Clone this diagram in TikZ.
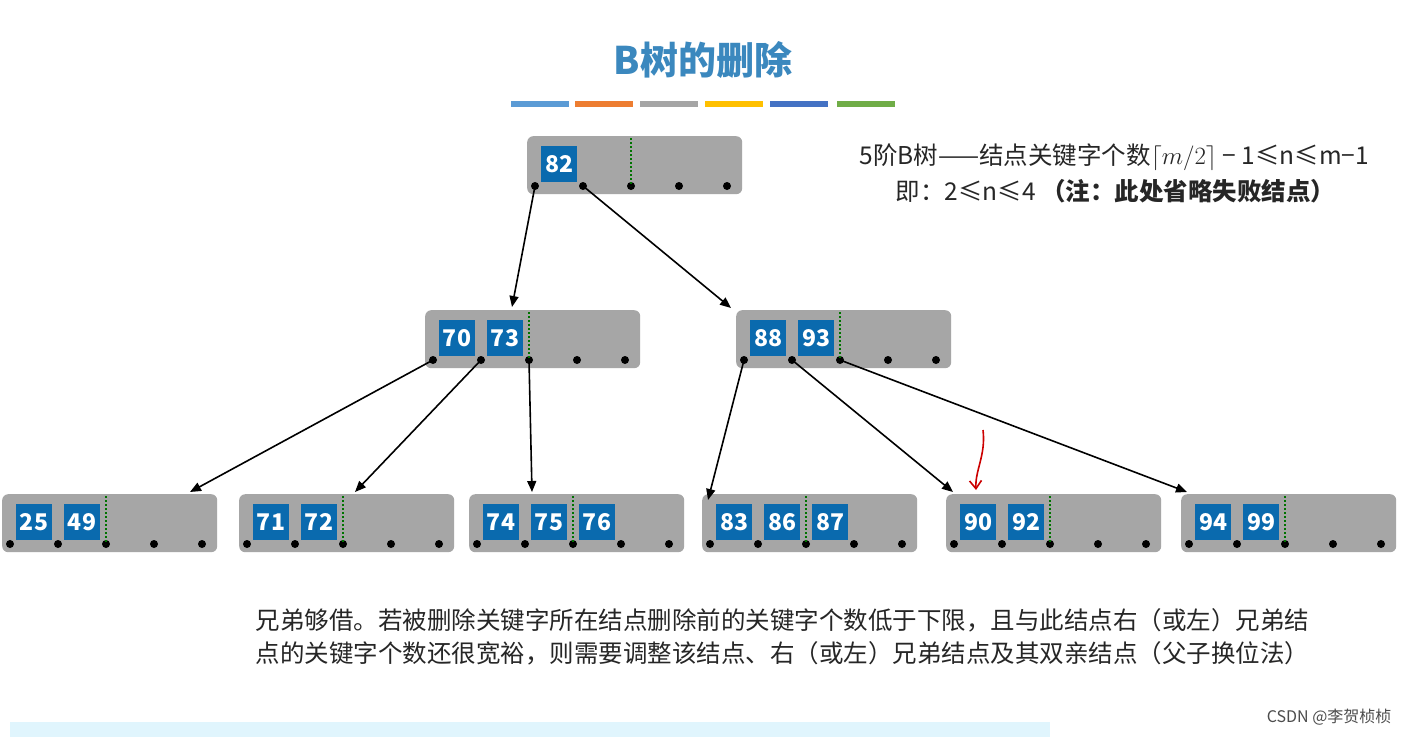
\documentclass[tikz,border=0pt]{standalone}
\usepackage{fontspec}
\setmainfont{Noto Sans CJK SC}
\newfontfamily\cjk{Noto Sans CJK SC}
\usetikzlibrary{arrows.meta}
\definecolor{kb}{HTML}{0A6AAE}
\definecolor{ng}{HTML}{A6A6A6}
\tikzset{
 bnode/.style={fill=ng,rounded corners=6pt,minimum width=215pt,minimum height=58pt,inner sep=0pt,draw=none},
 key/.style={fill=kb,text=white,minimum width=36pt,minimum height=36pt,inner sep=0pt,font=\fontsize{23}{23}\selectfont\bfseries},
 pdot/.style={circle,fill=black,inner sep=0pt,minimum size=8pt},
 arr/.style={-{Triangle[length=11pt,width=9pt]},line width=1.6pt},
 sep/.style={dotted,line width=2pt,draw=green!45!black},
 txt/.style={font=\fontsize{24.5}{28}\selectfont,text=black!85}
}
% #1 name, #2 left x, #3 top y, #4 keys list, #5 dotted index
\newcommand{\btnode}[5]{%
 \node[bnode,anchor=north west] (#1) at (#2,#3) {};
 \foreach \k in {0,...,4}{\node[pdot] (#1-d\k) at ({#2+8+48*\k},{#3+50}) {};}
 \draw[sep] ({#2+8+48*#5},{#3+2}) -- ({#2+8+48*#5},{#3+50});
 \foreach \v [count=\i from 0] in {#4}{\node[key] (#1-k\i) at ({#2+32+48*\i},{#3+28}) {\v};}
}
\begin{document}
\begin{tikzpicture}[x=1pt,y=-1pt]
\useasboundingbox (0,0) rectangle (1408,737);
\fill[white] (0,0) rectangle (1408,737);
\node[font=\fontsize{38}{38}\selectfont\bfseries,text=kb!80!white] (title) at (703,60) {B树的删除};
\foreach \c/\x in {5B9BD5/511,ED7D31/575,A5A5A5/640,FFC000/705,4472C4/770,70AD47/837}{
 \definecolor{tmp}{HTML}{\c}\fill[tmp] (\x,101) rectangle ++(58,6);}
\btnode{r}{527}{136}{82}{2}
\btnode{a}{425}{310}{70,73}{2}
\btnode{b}{736}{310}{88,93}{2}
\btnode{l1}{2}{494}{25,49}{2}
\btnode{l2}{239}{494}{71,72}{2}
\btnode{l3}{469}{494}{74,75,76}{2}
\btnode{l4}{702}{494}{83,86,87}{2}
\btnode{l5}{946}{494}{90,92}{2}
\btnode{l6}{1181}{494}{94,99}{2}
\coordinate (ta) at (512,307);
\coordinate (tb) at (731,308);
\coordinate (t1) at (190,492);
\coordinate (t2) at (355,492);
\coordinate (t3) at (532,492);
\coordinate (t4) at (708,500);
\coordinate (t5) at (953,492);
\coordinate (t6) at (1187,492);
\draw[arr] (r-d0.center) -- (ta);
\draw[arr] (r-d1.center) -- (tb);
\draw[arr] (a-d0.center) -- (t1);
\draw[arr] (a-d1.center) -- (t2);
\draw[arr] (a-d2.center) -- (t3);
\draw[arr] (b-d0.center) -- (t4);
\draw[arr] (b-d1.center) -- (t5);
\draw[arr] (b-d2.center) -- (t6);
\coordinate (rs) at (983,430);
\coordinate (re) at (976,490);
\draw[red!80!black,line width=1.6pt,-{Straight Barb[length=8pt,width=12pt]}] (rs) .. controls (986,455) and (975,470) .. (re);
\node[txt,anchor=west] (n1) at (856,157) {5阶B树——结点关键字个数$\lceil m/2\rceil$ − 1≤n≤m−1};
\node[txt,anchor=west] (n2) at (892,191) {即：2≤n≤4 \textbf{（注：此处省略失败结点）}};
\node[txt,anchor=west] (p1) at (252,620) {兄弟够借。若被删除关键字所在结点删除前的关键字个数低于下限，且与此结点右（或左）兄弟结};
\node[txt,anchor=west] (p2) at (252,653) {点的关键字个数还很宽裕，则需要调整该结点、右（或左）兄弟结点及其双亲结点（父子换位法）};
\fill[cyan!12] (10,722) rectangle (1050,737);
\node[font=\fontsize{16}{16}\selectfont,text=black!70,anchor=east] (wm) at (1395,717) {CSDN @李贺桢桢};
\end{tikzpicture}
\end{document}
